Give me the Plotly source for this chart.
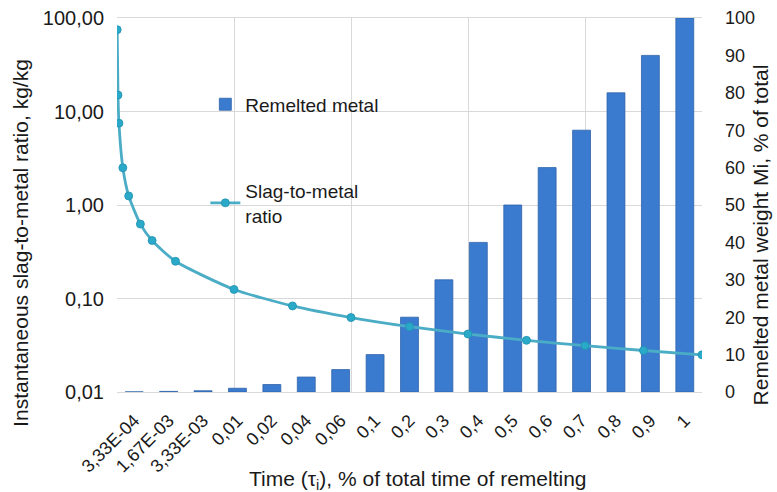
import plotly.graph_objects as go

# Categories (bar axis)
categories = ["3,33E-04", "1,67E-03", "3,33E-03", "0,01", "0,02", "0,04", "0,06", "0,1",
              "0,2", "0,3", "0,4", "0,5", "0,6", "0,7", "0,8", "0,9", "1"]
# Remelted metal weight, % of total
remelted = [0.0333, 0.167, 0.333, 1, 2, 4, 6, 10, 20, 30, 40, 50, 60, 70, 80, 90, 100]
# Time values (numeric, for line)
time_vals = [0.000333, 0.00167, 0.00333, 0.01, 0.02, 0.04, 0.06, 0.1,
             0.2, 0.3, 0.4, 0.5, 0.6, 0.7, 0.8, 0.9, 1.0]
# Slag-to-metal ratio, kg/kg
ratio = [75, 15, 7.5, 2.5, 1.25, 0.625, 0.417, 0.25, 0.125, 0.0833, 0.0625,
         0.05, 0.0417, 0.0357, 0.0313, 0.0278, 0.025]

left_ticks = [0.01, 0.1, 1, 10, 100]
left_ticktext = ["0,01", "0,10", "1,00", "10,00", "100,00"]
right_ticks = [0, 10, 20, 30, 40, 50, 60, 70, 80, 90, 100]

FONT = "Liberation Sans, Arial, sans-serif"

fig = go.Figure()
fig.add_trace(go.Bar(
    x=categories, y=remelted, name="Remelted metal",
    xaxis="x", yaxis="y", width=0.52,
    marker=dict(color="#3a7bd0", line=dict(color="#2f63a8", width=0.8)),
    legend="legend",
))
fig.add_trace(go.Scatter(
    x=time_vals, y=ratio, name="Slag-to-metal<br>ratio",
    xaxis="x2", yaxis="y2", mode="lines+markers",
    line=dict(color="#4bacc6", width=2.8, shape="spline", smoothing=0.6),
    marker=dict(color="#2aa9c9", size=8, line=dict(color="#1f93b0", width=0.8)),
    legend="legend2",
))

fig.update_layout(
    width=777, height=492,
    margin=dict(l=117, r=75, t=18, b=100),
    paper_bgcolor="white", plot_bgcolor="white",
    font=dict(family=FONT, size=19, color="#1a1a1a"),
    xaxis=dict(
        type="category", range=[-0.5, 16.5], showgrid=False, automargin=False,
        tickangle=-45, tickfont=dict(size=18), ticks="", ticklabelstandoff=10,
        showline=True, linecolor="#d9d9d9", linewidth=1,
    ),
    yaxis=dict(
        side="right", range=[0, 100], tickvals=right_ticks, showgrid=False,
        zeroline=False, ticks="", tickfont=dict(size=18), automargin=False,
        ticklabelstandoff=22,
    ),
    xaxis2=dict(
        overlaying="x", range=[0, 1], dtick=0.2, showgrid=True, automargin=False,
        gridcolor="#d9d9d9", gridwidth=1, showticklabels=False, ticks="",
        zeroline=False, showline=True, linecolor="#d9d9d9", mirror=True,
    ),
    yaxis2=dict(
        overlaying="y", side="left", type="log", range=[-2, 2], automargin=False,
        tickvals=left_ticks, ticktext=left_ticktext, showgrid=True,
        gridcolor="#d9d9d9", gridwidth=1, ticks="", tickfont=dict(size=20),
        zeroline=False, ticklabelstandoff=12,
    ),
    legend=dict(x=0.151, y=0.769, xanchor="left", yanchor="middle",
                bgcolor="rgba(0,0,0,0)", font=dict(size=19)),
    legend2=dict(x=0.151, y=0.505, xanchor="left", yanchor="middle",
                 bgcolor="rgba(0,0,0,0)", font=dict(size=19)),
    showlegend=True,
    annotations=[
        dict(text="Instantaneous slag-to-metal ratio, kg/kg", xref="paper", yref="paper",
             x=-0.165, y=0.40, textangle=-90, showarrow=False, font=dict(size=21),
             xanchor="center", yanchor="middle"),
        dict(text="Remelted metal weight Mi, % of total", xref="paper", yref="paper",
             x=1.1, y=0.42, textangle=-90, showarrow=False, font=dict(size=21),
             xanchor="center", yanchor="middle"),
        dict(text="Time (τ<sub>i</sub>), % of total time of remelting", xref="paper", yref="paper",
             x=0.515, y=-0.236, showarrow=False, font=dict(size=21),
             xanchor="center", yanchor="middle"),
    ],
)

fig.write_html("out.html", config={"displayModeBar": False},
               post_script="document.body.style.margin='0';")
